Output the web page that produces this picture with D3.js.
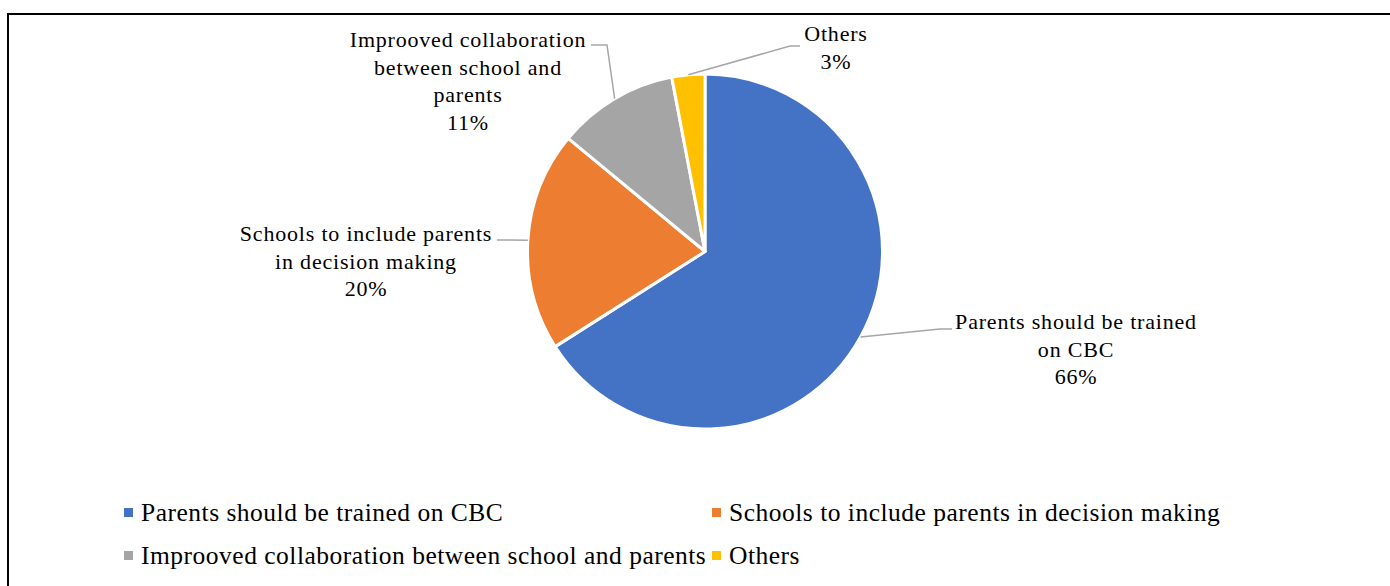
<!DOCTYPE html>
<html>
<head>
<meta charset="utf-8">
<script src="https://cdn.jsdelivr.net/npm/d3@7"></script>
<style>
  body { margin: 0; background: #fff; }
  text { font-family: "Liberation Serif", "Times New Roman", serif; fill: #000; }
</style>
</head>
<body>
<div id="chart"></div>
<script>
// chart data
var categories = [
  "Parents should be trained on CBC",
  "Schools to include parents in decision making",
  "Improoved collaboration between school and parents",
  "Others"
];
var values = [66, 20, 11, 3];
var colors = ["#4472C4", "#ED7D31", "#A5A5A5", "#FFC000"];

// wrapped data label lines (as in the picture)
var labelLines = [
  ["Parents should be trained", "on CBC"],
  ["Schools to include parents", "in decision making"],
  ["Improoved collaboration", "between school and", "parents"],
  ["Others"]
];

// label placement (layout only)
var labelLayout = [
  { x: 1076, y: 329, elbow: [940, 329], end: [952, 329] },
  { x: 366,  y: 241, elbow: [510, 240], end: [497, 240] },
  { x: 468,  y: 47,  elbow: [607, 45],  end: [591, 45] },
  { x: 836,  y: 41,  elbow: [790, 46],  end: [800, 46] }
];

var w = 1390, h = 586;
var cx = 705, cy = 251.5, r = 177.5;

var svg = d3.select("#chart").append("svg")
  .attr("width", w)
  .attr("height", h);

// frame
svg.append("rect")
  .attr("x", 8).attr("y", 14)
  .attr("width", 1400).attr("height", 600)
  .attr("fill", "none")
  .attr("stroke", "#000")
  .attr("stroke-width", 2);

var data = categories.map(function(c, i) {
  return { name: c, value: values[i], color: colors[i], lines: labelLines[i], layout: labelLayout[i] };
});

var pie = d3.pie()
  .value(function(d) { return d.value; })
  .sort(null);

var arc = d3.arc().innerRadius(0).outerRadius(r);
var outerArc = d3.arc().innerRadius(r).outerRadius(r);

var arcs = pie(data);

var g = svg.append("g").attr("transform", "translate(" + cx + "," + cy + ")");

g.selectAll(".slice")
  .data(arcs)
  .enter()
  .append("path")
    .attr("class", "slice")
    .attr("d", arc)
    .attr("fill", function(d) { return d.data.color; })
    .attr("stroke", "#fff")
    .attr("stroke-width", 3)
    .attr("stroke-linejoin", "round");

// leader lines
svg.selectAll(".leader")
  .data(arcs)
  .enter()
  .append("polyline")
    .attr("class", "leader")
    .attr("fill", "none")
    .attr("stroke", "#A6A6A6")
    .attr("stroke-width", 1.5)
    .attr("points", function(d) {
      var c = outerArc.centroid(d);
      var p0 = [cx + c[0], cy + c[1]];
      var L = d.data.layout;
      return [p0, L.elbow, L.end].map(function(p) { return p.join(","); }).join(" ");
    });

// data labels
var lbl = svg.selectAll(".data-label")
  .data(arcs)
  .enter()
  .append("text")
    .attr("class", "data-label")
    .attr("text-anchor", "middle")
    .style("font-size", "22px")
    .style("letter-spacing", "0.8px");

lbl.each(function(d) {
  var t = d3.select(this);
  var L = d.data.layout;
  var lines = d.data.lines.concat([d3.format(".0f")(d.data.value) + "%"]);
  lines.forEach(function(s, i) {
    t.append("tspan")
      .attr("x", L.x)
      .attr("y", L.y + i * 27.5)
      .text(s);
  });
});

// legend
var legendPos = [
  { x: 124, y: 521 },
  { x: 712, y: 521 },
  { x: 124, y: 564 },
  { x: 712, y: 564 }
];

var legend = svg.selectAll(".legend-item")
  .data(data)
  .enter()
  .append("g")
    .attr("class", "legend-item")
    .attr("transform", function(d, i) {
      return "translate(" + legendPos[i].x + "," + legendPos[i].y + ")";
    });

legend.append("rect")
  .attr("x", 0)
  .attr("y", -13)
  .attr("width", 9)
  .attr("height", 9)
  .attr("fill", function(d) { return d.color; });

legend.append("text")
  .attr("x", 17)
  .attr("y", 0)
  .style("font-size", "25.5px")
  .style("letter-spacing", "0.5px")
  .text(function(d) { return d.name; });
</script>
</body>
</html>
